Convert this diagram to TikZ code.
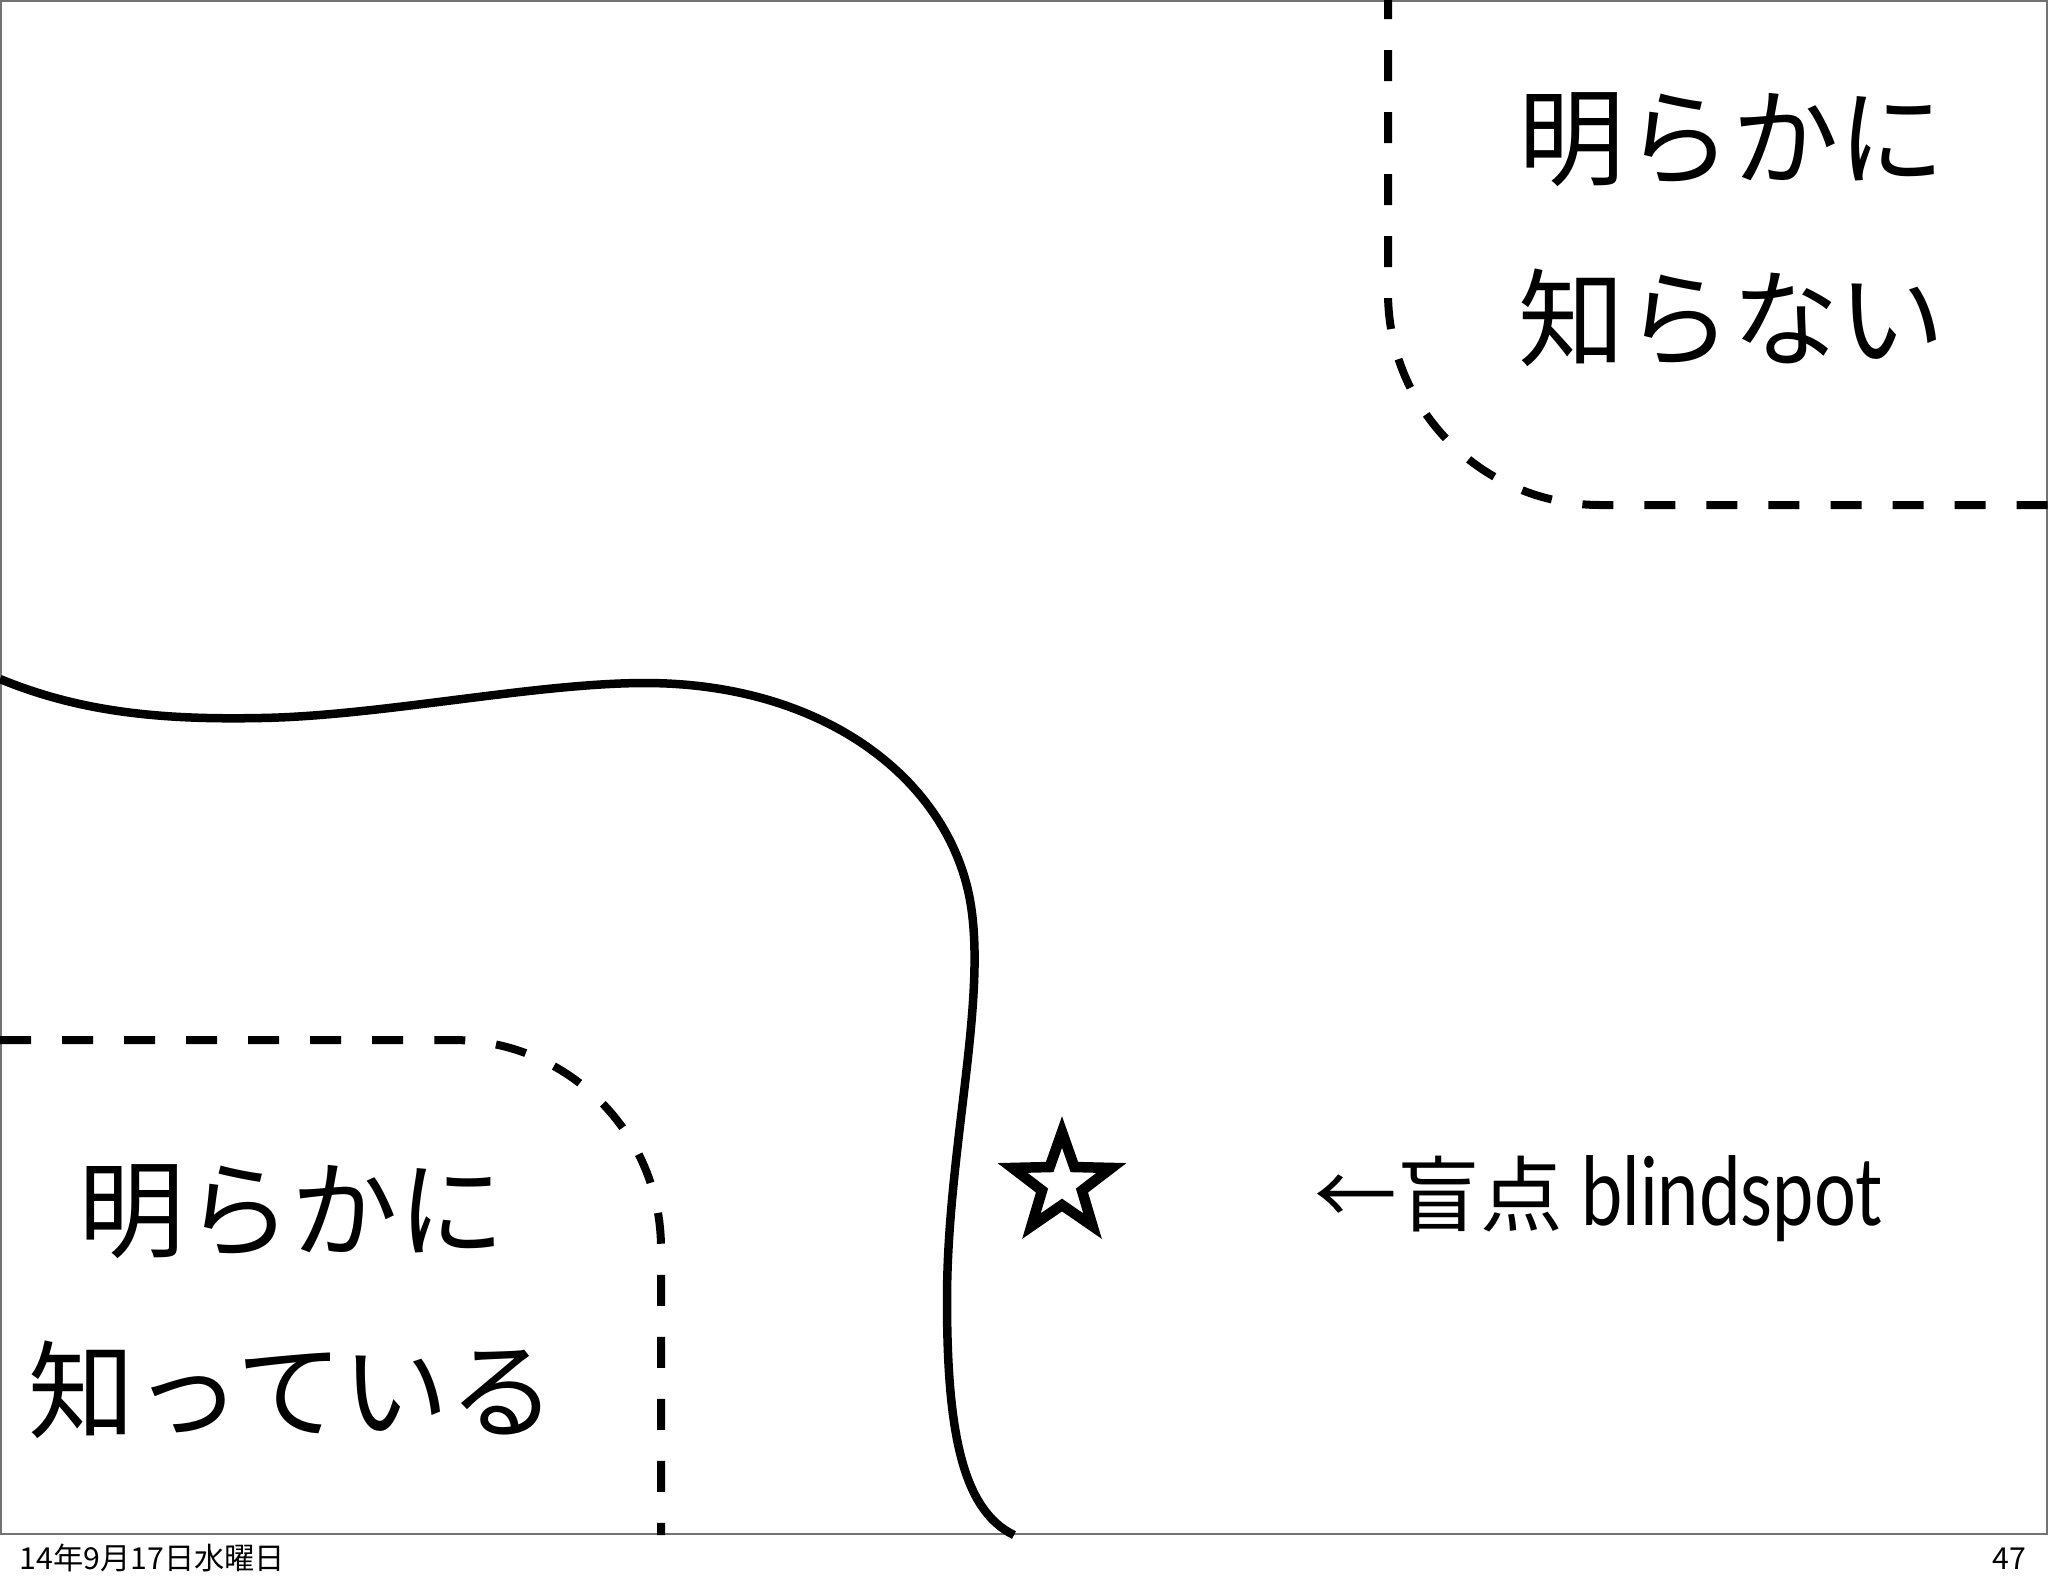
\documentclass[tikz,border=0pt]{standalone}
\usepackage{fontspec}
\newfontfamily\jp{Noto Sans CJK JP}
\newfontfamily\lat[FakeStretch=0.78]{Lato}
\begin{document}
\begin{tikzpicture}[x=0.01cm,y=-0.01cm,
  frame/.style={draw=black!55, line width=0.02cm},
  boundary/.style={line width=0.08cm, dash pattern=on 0.31cm off 0.31cm},
  divider/.style={line width=0.085cm},
  starline/.style={line width=0.105cm, line join=miter},
  bigjp/.style={font=\jp\fontsize{30.3}{51.5}\selectfont, align=center, inner sep=0pt},
  label/.style={inner sep=0pt},
  footer/.style={font=\jp\fontsize{8.6}{11}\selectfont, inner sep=0pt}]
\useasboundingbox[fill=white] (0,0) rectangle (2048,1587);
% slide frame
\draw[frame] (1,1) rectangle (2047,1534);
% upper right region boundary
\coordinate (ur0) at (1388,0);
\coordinate (ur1) at (1388,505);
\coordinate (ur2) at (2048,505);
\draw[boundary, dash phase=0.12cm, rounded corners=2.12cm] (ur0) -- (ur1) -- (ur2);
% lower left region boundary
\coordinate (ll0) at (0,1040);
\coordinate (ll1) at (661,1040);
\coordinate (ll2) at (661,1535);
\draw[boundary, rounded corners=2.08cm] (ll0) -- (ll1) -- (ll2);
% solid divider curve
\coordinate (d0) at (0,679);
\coordinate (d1) at (261,718);
\coordinate (d2) at (645,683);
\coordinate (d3) at (970,900);
\coordinate (d4) at (947,1300);
\coordinate (d5) at (1014,1535);
\draw[divider] (d0) .. controls (80,712) and (160,720) .. (d1)
  .. controls (380,716) and (535,683) .. (d2)
  .. controls (825,683) and (948,780) .. (d3)
  .. controls (988,1000) and (947,1150) .. (d4)
  .. controls (947,1430) and (962,1510) .. (d5);
% star
\begin{scope}[shift={(1062,1184)}]
\draw[starline] (0,-52) -- (12.34,-16.99) -- (49.45,-16.07) -- (19.97,6.49)
  -- (30.56,42.07) -- (0,21) -- (-30.56,42.07) -- (-19.97,6.49)
  -- (-49.45,-16.07) -- (-12.34,-16.99) -- cycle;
\end{scope}
% texts
\node[bigjp] (unknown) at (1732,230) {明らかに\\知らない};
\node[bigjp] (known) at (292,1302) {明らかに\\知っている};
\node[label, anchor=base west] (blind) at (1314,1225)
  {\jp\fontsize{23.5}{30}\selectfont ←盲点 \lat\fontsize{27}{30}\selectfont blindspot};
\node[footer, anchor=base west] (date) at (19,1569) {14年9月17日水曜日};
\node[footer, anchor=base east] (page) at (2027,1569) {47};
\end{tikzpicture}
\end{document}
